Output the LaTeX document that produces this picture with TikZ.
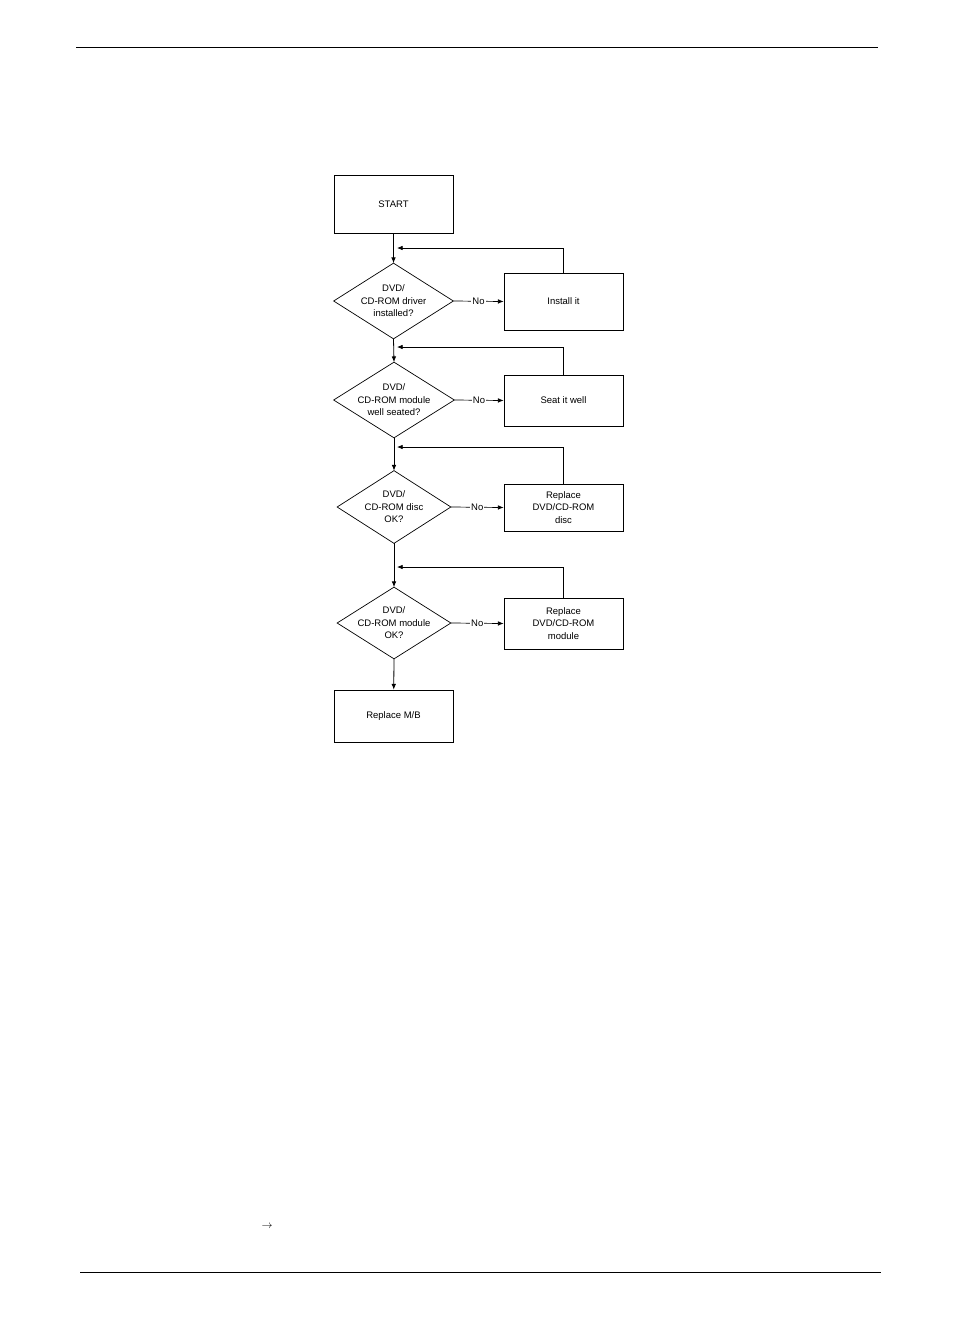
\documentclass[tikz,border=0pt]{standalone}
\usepackage{fontspec}
\setmainfont{Liberation Sans}
\usetikzlibrary{arrows.meta}
\begin{document}
\begin{tikzpicture}[x=1pt,y=-1pt, line width=0.7pt]
	\tikzset{box/.style={
		rectangle, draw=black, minimum width=119pt, align=center, font=\fontsize{9.5}{12.5}\selectfont
	}}
	\tikzset{decision/.style={
		rectangle, inner sep=0pt, align=center, font=\fontsize{9.5}{12.5}\selectfont
	}}
	\tikzset{conn/.style={
		-{Latex[length=2mm,width=1.6mm]}
	}}
	\useasboundingbox (0,0) rectangle (954,1336);

	% page rules
	\coordinate (top_l) at (76,47);   \coordinate (top_r) at (878,47);
	\coordinate (bot_l) at (80,1272); \coordinate (bot_r) at (881,1272);
	\draw (top_l) -- (top_r);
	\draw (bot_l) -- (bot_r);
	\node (arrowmark) at (267,1226) {\fontsize{11}{12}\selectfont$\rightarrow$};

	% main column
	\node (Start) [box, minimum height=58pt] at (393.5,204) {START};
	\node (D1) [decision, minimum width=119pt, minimum height=75pt] at (393.5,301) {DVD/\\CD-ROM driver\\installed?};
	\node (D2) [decision, minimum width=120pt, minimum height=75pt] at (394,400) {DVD/\\CD-ROM module\\well seated?};
	\node (D3) [decision, minimum width=113pt, minimum height=72pt] at (394,507) {DVD/\\CD-ROM disc\\OK?};
	\node (D4) [decision, minimum width=113pt, minimum height=71pt] at (394,623) {DVD/\\CD-ROM module\\OK?};
	\node (MB) [box, minimum height=52pt] at (393.5,716) {Replace M/B};

	% right column
	\node (Install) [box, minimum height=57pt] at (563.5,301.5) {Install it};
	\node (Seat) [box, minimum height=51pt] at (563.5,400.5) {Seat it well};
	\node (Disc) [box, minimum height=47pt] at (563.5,507.5) {Replace\\DVD/CD-ROM\\disc};
	\node (Module) [box, minimum height=51pt] at (563.5,623.5) {Replace\\DVD/CD-ROM\\module};

	% diamonds
	\foreach \d in {D1,D2,D3,D4}
		\draw (\d.north) -- (\d.east) -- (\d.south) -- (\d.west) -- cycle;

	% down the column
	\draw[conn, thick] (Start) -- (D1.north);
	\draw[conn, thick] (D1.south) -- (D2.north);
	\draw[conn, thick] (D2.south) -- (D3.north);
	\draw[conn, thick] (D3.south) -- (D4.north);
	\draw[conn, thick] (D4.south) -- (MB);

	% No branches and returns
	\foreach \d/\b/\y in {D1/Install/248, D2/Seat/347, D3/Disc/447, D4/Module/567} {
		\draw[conn] (\d.east) -- node[fill=white, inner sep=1pt, font=\fontsize{9.5}{11}\selectfont] {No} (\b.west);
		\draw[conn] (\b.north) |- (397,\y);
	}
\end{tikzpicture}
\end{document}
